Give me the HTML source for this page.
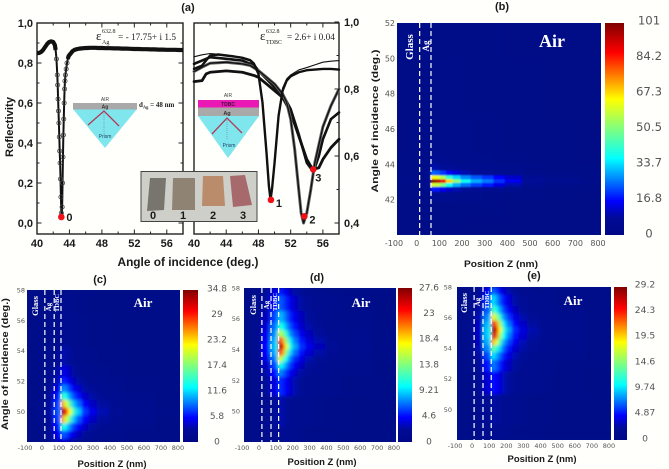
<!DOCTYPE html>
<html lang="en">
<head>
<meta charset="utf-8">
<title>Reflectivity and field maps</title>
<style>
html,body{margin:0;padding:0;background:#fffffb;width:669px;height:469px;overflow:hidden}
svg{display:block}
text{font-family:"Liberation Sans",sans-serif}
.bold{font-weight:700;fill:#1a1a1a}
.serif{font-family:"Liberation Serif",serif;fill:#222}
.dj{font-family:"DejaVu Sans",sans-serif;fill:#555}
.ov{font-family:"Liberation Serif",serif;font-weight:700;fill:#fff}
</style>
</head>
<body>
<svg id="fig" xmlns="http://www.w3.org/2000/svg" width="669" height="469" viewBox="0 0 669 469">
<defs>
<linearGradient id="jet" x1="0" y1="1" x2="0" y2="0">
<stop offset="0" stop-color="#000887"/><stop offset=".08" stop-color="#000a96"/><stop offset=".16" stop-color="#0000ff"/><stop offset=".36" stop-color="#00ffff"/><stop offset=".64" stop-color="#ffff00"/><stop offset=".86" stop-color="#ff0000"/><stop offset="1" stop-color="#800000"/>
</linearGradient>
<filter id="soft" x="-5%" y="-5%" width="110%" height="110%"><feGaussianBlur stdDeviation="0.9"/></filter>
<filter id="softer" x="-5%" y="-5%" width="110%" height="110%"><feGaussianBlur stdDeviation="1.5"/></filter>
</defs>
<rect width="669" height="469" fill="#fffffb"/>
<g id="refl"></g>
<g id="maps"></g>
<g>
<text x="105" y="101" font-size="5" text-anchor="middle" fill="#444">AIR</text>
<polygon points="73,109 137,109 105,148" fill="#7fe6ee"/>
<rect x="73" y="103" width="64" height="6.5" fill="#a9a9a9"/>
<text x="105" y="108.5" font-size="5" font-weight="700" text-anchor="middle" fill="#333">Ag</text>
<path d="M88 125L104 111L119 126" fill="none" stroke="#b03a55" stroke-width="1.3"/>
<line x1="104" y1="111" x2="104" y2="134" stroke="#668" stroke-width=".5" stroke-dasharray="1 1"/>
<text x="105" y="138" font-size="5" text-anchor="middle" fill="#246">Prism</text>
<text class="serif" x="139" y="107" font-size="7" font-weight="700">d<tspan dy="1.5" font-size="4.5">Ag</tspan><tspan dy="-1.5"> = 48 nm</tspan></text>
<text class="serif" x="96" y="40" font-size="13">ε</text>
<text class="serif" x="102" y="33" font-size="6">632.8</text>
<text class="serif" x="102" y="44" font-size="6">Ag</text>
<text class="serif" x="118" y="40" font-size="9.3">= - 17.75+ i 1.5</text>
</g>
<g>
<text x="228" y="97" font-size="5" text-anchor="middle" fill="#444">AIR</text>
<polygon points="198,116 259,116 228,158" fill="#7fe6ee"/>
<rect x="198" y="107" width="61" height="9" fill="#a9a9a9"/>
<rect x="198" y="100" width="61" height="7.5" fill="#ea18b4"/>
<text x="228" y="106" font-size="5" font-weight="700" text-anchor="middle" fill="#40103a">TDBC</text>
<text x="227" y="115" font-size="5.5" font-weight="700" text-anchor="middle" fill="#333">Ag</text>
<path d="M212 134L227 118L242 133" fill="none" stroke="#b03a55" stroke-width="1.3"/>
<line x1="227" y1="118" x2="227" y2="140" stroke="#668" stroke-width=".5" stroke-dasharray="1 1"/>
<text x="229" y="147" font-size="5" text-anchor="middle" fill="#246">Prism</text>
<text class="serif" x="260" y="40" font-size="13">ε</text>
<text class="serif" x="266" y="33" font-size="6">632.8</text>
<text class="serif" x="266" y="44" font-size="6">TDBC</text>
<text class="serif" x="287" y="40" font-size="9.3">= 2.6+ i 0.04</text>
</g>
<g>
<rect x="141" y="171.5" width="116" height="50" fill="#cfcfca" stroke="#444" stroke-width="1"/>
<polygon points="150,178 166,178 164,210 147,211" fill="#77756e"/>
<polygon points="173,178 195,178 195,210 172,210" fill="#8f8374"/>
<polygon points="203,176 223,176 225,206 202,206" fill="#bb8c6c"/>
<polygon points="230,176 245,175 252,205 233,207" fill="#a66a6c"/>
<text class="bold" x="153" y="219" font-size="11" text-anchor="middle">0</text>
<text class="bold" x="183" y="219" font-size="11" text-anchor="middle">1</text>
<text class="bold" x="213" y="219" font-size="11" text-anchor="middle">2</text>
<text class="bold" x="243" y="219" font-size="11" text-anchor="middle">3</text>
</g>
<g id="marks"></g>
<text class="bold" x="188" y="11" font-size="11" text-anchor="middle">(a)</text>
<text class="bold" x="502" y="10" font-size="11" text-anchor="middle">(b)</text>
<text class="bold" x="100" y="283" font-size="11" text-anchor="middle">(c)</text>
<text class="bold" x="317" y="281" font-size="11" text-anchor="middle">(d)</text>
<text class="bold" x="534" y="279" font-size="11" text-anchor="middle">(e)</text>
<text class="bold" x="188" y="266" font-size="11.5" text-anchor="middle" textLength="141" lengthAdjust="spacingAndGlyphs">Angle of incidence (deg.)</text>
<text class="bold" transform="translate(13 127) rotate(-90)" font-size="11" text-anchor="middle" textLength="60" lengthAdjust="spacingAndGlyphs">Reflectivity</text>
</svg>
<script>
/* ---------- panel (a): reflectivity curves ---------- */
const silverAngle = [40,40.25,40.5,40.75,41,41.25,41.5,41.75,42,42.2,42.3,42.4,42.5,42.55,42.6,42.65,42.7,42.75,42.8,42.85,42.9,42.95,43,43.05,43.1,43.15,43.2,43.25,43.3,43.35,43.4,43.45,43.5,43.6,43.7,43.8,43.9,44,44.2,44.4,44.6,44.8,45,45.25,45.5,45.75,46,46.25,46.5,46.75,47,47.25,47.5,47.75,48,48.5,49,49.5,50,50.5,51,51.5,52,52.5,53,53.5,54,54.5,55,55.5,56,56.5,57,57.5,58];
const silverReflectivity = [.85,.85,.855,.865,.88,.895,.905,.908,.905,.89,.865,.82,.74,.69,.62,.56,.5,.43,.36,.3,.22,.13,.05,.03,.08,.2,.33,.44,.52,.6,.67,.71,.74,.77,.8,.82,.835,.84,.85,.86,.865,.868,.87,.872,.873,.874,.875,.875,.876,.876,.876,.876,.875,.875,.875,.874,.874,.873,.873,.872,.872,.871,.87,.87,.869,.869,.868,.868,.867,.867,.866,.866,.866,.865,.865];
const curve1Angle = [40,41,42,43,44,45,46,47,47.5,48,48.5,49,49.3,49.5,49.7,50,50.5,51,51.5,52,53,54,55,56,57,58];
const curve1Top = [.896,.902,.906,.904,.9,.898,.895,.888,.877,.852,.767,.62,.52,.469,.51,.588,.728,.803,.83,.842,.857,.864,.872,.88,.883,.885];
const curve1Lower = [.86,.87,.9,.903,.9,.897,.893,.885,.872,.845,.76,.61,.51,.469,.505,.58,.72,.795,.825,.838,.85,.856,.858,.86,.86,.858];
const curve2Angle = [40,41,42,44,46,47,48,49,50,51,51.5,52,52.5,53,53.3,53.6,54,54.5,55,56,57,58];
const curve2Values = [.852,.865,.877,.88,.875,.87,.855,.835,.815,.785,.76,.71,.62,.5,.43,.4,.43,.5,.58,.687,.75,.8];
const curve3Angle = [40,41,41.5,42,44,46,47.5,48,49,50,51,52,53,54,54.5,54.8,55.5,56,57,58];
const curve3Values = [.822,.825,.845,.85,.854,.85,.84,.835,.815,.795,.775,.73,.66,.59,.57,.56,.565,.59,.625,.65];
const curve4Angle = [40,41,42,44,46,47.5,48,49,50,51,52,53,54,54.6,55,55.5,56,57,58];
const curve4Values = [.875,.885,.895,.89,.885,.87,.855,.83,.805,.785,.74,.665,.58,.56,.565,.6,.65,.71,.73];
const markerAngles = [49.55,53.7,54.8];
const markerValues = [.469,.42,.56];
const markerNames = ['1','2','3'];
const silverMarkerAngle = 43;
const silverMarkerValue = .03;
const angleTicks = [40,44,48,52,56];
const leftTicks = [0,.2,.4,.6,.8,1];
const rightTicks = [.4,.6,.8,1];

/* ---------- panel (b) ---------- */
const bPositions = [-100,0,40,60,80,100,130,160,200,250,300,350,400,500,600,800];
const bAngles = [52,48,45,44.2,43.8,43.5,43.25,43.05,42.85,42.6,42.3,41.5,40];
const bField = [
[.3,.3,.3,.5,.5,.5,.5,.4,.4,.3,.3,.3,.2,.2,.2,.1],
[.2,.2,.3,2,2,1.5,1.5,1.5,1,1,1,.5,.5,.3,.2,.1],
[.2,.5,.5,3,3,3,3,2.5,2.5,2,2,1.5,1,1,.5,.2],
[.5,.5,1,5,5,4,4,3.5,3,3,2.5,2,2,1,1,.2],
[.5,1,2,10,9,8,7,6,5,4.5,4,3,2.5,2,1,.5],
[.5,1,3,24,23,20,16,13,10,8,7,5,4,2,1,.5],
[1,1,4,65,62,55,42,33,27,23,20,16,12,6,3,1],
[1,2,6,100,96,88,68,52,38,30,26,20,15,7,5,2],
[1,1,4,60,58,50,38,30,25,21,18,14,10,5,2,1],
[.5,1,2,18,17,15,12,10,8,7,6,5,3,2,1,.5],
[.5,.5,1,5,5,4,4,3,3,2.5,2,2,1,1,.5,.2],
[.2,.2,.5,1,1,1,1,1,.5,.5,.5,.5,.2,.2,.2,.1],
[.1,.1,.2,.3,.3,.3,.3,.3,.2,.2,.2,.2,.1,.1,.1,.1]];
const bLayerEdges = [0,50];
const bColorTicks = [0,16.8,33.7,50.5,67.3,84.2,101];
const bAngleTicks = [42,44,46,48,50,52];

/* ---------- panels (c), (d), (e) ---------- */
const tdbcPositions = [-100,-20,25,75,90,110,130,150,175,200,240,280,340,420,520,800];
const zTicks = [-100,0,100,200,300,400,500,600,700,800];
const tdbcAngleTicks = [50,52,54,56,58];

const cAngles = [58,55,53.5,52.5,52,51.5,51,50.5,50,49.5,49,48.5,48];
const cField = [
[.3,.4,.6,1,1.2,1.5,1.3,1,.9,.7,.6,.4,.3,.2,.1,.1],
[.3,.5,.8,1.5,1.7,2.2,2,1.7,1.4,1.1,.9,.7,.5,.3,.2,.1],
[.3,.5,1,2,2.5,3.5,3.2,2.8,2.3,1.9,1.5,1.1,.8,.5,.3,.1],
[.4,.6,1.3,3,3.5,5,4.6,3.8,3,2.4,1.9,1.5,1.1,.8,.4,.2],
[.4,.7,1.5,3.5,4.5,6.5,6,5,4,3.2,2.4,1.8,1.4,1,.6,.2],
[.4,.7,2,4.5,5.5,9.5,9,7,5.5,4.4,3.2,2.4,1.8,1.3,.8,.3],
[.5,.8,2.3,5.5,7,15,13,10,7.5,6,4.2,3.2,2.3,1.7,1,.3],
[.5,1,2.8,6.5,8.5,25,21,16,11,8.5,5.5,4,3,2.1,1.3,.4],
[.5,1,3,7,9,34,29,22,15,11,7,5,3.5,2.5,1.5,.5],
[.5,1,2.8,6.5,8.5,25,21,16,11,8,5.5,4,3,2.1,1.3,.4],
[.4,.8,2.3,5.5,7,14,12,9.5,7,5.5,4,3,2.2,1.6,1,.3],
[.4,.7,2,4.5,5.5,8,7.5,6,4.8,3.8,2.8,2.1,1.5,1.1,.7,.2],
[.4,.6,1.5,3.5,4,5,4.6,3.8,3,2.5,1.9,1.5,1,.7,.4,.2]];
const cLayerEdges = [5,60,100];
const cColorTicks = [0,5.8,11.6,17.4,23.2,29,34.8];

const dAngles = [58,57,56,55.5,55,54.6,54.2,53.8,53.4,53,52.5,52,50,48];
const dField = [
[.5,.8,2,3.5,4,5,4.6,3.8,3,2.5,2,1.5,1.2,.9,.6,.3],
[.5,.9,2.4,4.2,5,6.5,6,5,4,3.2,2.5,1.9,1.4,1,.7,.3],
[.6,1,3,5.5,6.5,8.5,8,6.5,5,4,3,2.3,1.7,1.2,.8,.3],
[.6,1,3.5,6.5,7.5,11,10,8,6,4.7,3.4,2.6,2,1.4,.9,.4],
[.6,1.1,4,7,8.5,16,14,11,7.5,5.8,4,3,2.3,1.6,1,.4],
[.6,1.2,4.3,7.7,9.5,24,20,14,9.5,7,4.8,3.5,2.7,1.8,1.2,.5],
[.6,1.2,4.5,8,10,27,24,17,11,8,5.5,4,3,2,1.3,.5],
[.6,1.2,4.3,7.5,9.5,24,20,14,9,6.7,4.6,3.4,2.6,1.8,1.2,.5],
[.5,1.1,3.8,6.5,8,17,14,10,7,5.2,3.8,2.8,2.2,1.5,1,.4],
[.5,1,3,5.5,6.5,11,9.5,7.5,5.5,4.2,3.1,2.3,1.8,1.3,.8,.3],
[.4,.8,2.5,4.5,5,7.5,6.8,5.5,4.3,3.3,2.5,1.9,1.5,1,.7,.3],
[.4,.7,2,3.5,4,5.5,5,4.2,3.4,2.7,2,1.6,1.2,.9,.6,.2],
[.3,.5,1.2,2,2.2,2.8,2.6,2.2,1.8,1.5,1.2,1,.8,.5,.3,.2],
[.3,.4,.8,1.2,1.4,1.8,1.7,1.4,1.2,1,.8,.6,.5,.3,.2,.1]];
const dLayerEdges = [6,60,105];
const dColorTicks = [0,4.6,9.21,13.8,18.4,23,27.6];

const eAngles = [58,57,56.5,56,55.6,55.2,54.8,54.4,54,53.5,53,52,50,48];
const eField = [
[.5,.8,2,4,5,7,6,4.5,3.5,2.8,2,1.6,1.2,.9,.6,.3],
[.5,.9,2.4,5.5,6.5,10,8.5,6.5,5,3.8,2.7,2,1.5,1.1,.7,.3],
[.5,1,2.6,6.5,7.5,13,11,8.5,6,4.5,3.2,2.4,1.8,1.2,.8,.3],
[.6,1,3,7.5,9,19,16,12,8,5.8,4,2.9,2.1,1.4,.9,.4],
[.6,1.1,3.2,8.5,10,26,22,16,10,7.2,4.8,3.4,2.5,1.7,1.1,.4],
[.6,1.2,3.4,9,11,29,26,19,12,8.5,5.5,3.9,2.8,1.9,1.2,.5],
[.6,1.2,3.4,9,10.5,27,23,16,10.5,7.5,5,3.6,2.6,1.8,1.1,.4],
[.6,1.1,3.2,8.5,9.5,21,18,13,8.5,6.2,4.3,3.1,2.3,1.6,1,.4],
[.5,1,3,7.5,8.5,14,12,9.5,6.8,5,3.6,2.7,2,1.4,.9,.4],
[.5,.9,2.6,6,7,10,8.8,7,5.2,4,3,2.2,1.7,1.2,.8,.3],
[.4,.8,2.3,5,5.5,7.5,6.8,5.5,4.2,3.3,2.5,1.9,1.5,1,.7,.3],
[.4,.7,1.8,3.5,4,5,4.6,3.8,3.1,2.5,1.9,1.5,1.2,.8,.5,.2],
[.3,.5,1.1,1.8,2.1,2.7,2.5,2.1,1.7,1.4,1.1,.9,.7,.5,.3,.2],
[.3,.4,.7,1.1,1.3,1.7,1.6,1.3,1.1,.9,.7,.6,.5,.3,.2,.1]];
const eLayerEdges = [0,52,100];
const eColorTicks = [0,4.87,9.74,14.6,19.5,24.3,29.2];

/* ---------- helpers ---------- */
const NS = 'http://www.w3.org/2000/svg';
function mk(tag, attrs, parent) {
  const n = document.createElementNS(NS, tag);
  for (const k in attrs) n.setAttribute(k, attrs[k]);
  parent.appendChild(n);
  return n;
}
function txt(str, attrs, parent) {
  const n = mk('text', attrs, parent);
  n.textContent = str;
  return n;
}
function fmtComma(v) { return v.toFixed(1).replace('.', ','); }
function linear(d0, d1, r0, r1) { return v => r0 + (v - d0) / (d1 - d0) * (r1 - r0); }
const jetStops = [[0,[0,8,135]],[.08,[0,10,150]],[.16,[0,0,255]],[.36,[0,255,255]],[.64,[255,255,0]],[.86,[255,0,0]],[1,[128,0,0]]];
function jet(t) {
  t = Math.max(0, Math.min(1, t));
  for (let i = 1; i < jetStops.length; i++) {
    if (t <= jetStops[i][0]) {
      const a = jetStops[i-1], b = jetStops[i], u = (t - a[0]) / (b[0] - a[0]);
      return 'rgb(' + a[1].map((c, j) => Math.round(c + (b[1][j] - c) * u)).join(',') + ')';
    }
  }
  return 'rgb(128,0,0)';
}
function edges(centers, lo, hi) {
  const e = [lo];
  for (let i = 1; i < centers.length; i++) e.push((centers[i-1] + centers[i]) / 2);
  e.push(hi);
  return e;
}
function polyPoints(xs, ys, sx, sy) { return xs.map((v, i) => sx(v).toFixed(2) + ',' + sy(ys[i]).toFixed(2)).join(' '); }

/* ---------- draw panel (a) ---------- */
const refl = document.getElementById('refl');
const marks = document.getElementById('marks');
const xLeft = linear(40, 58, 37, 183);
const yLeft = linear(0, 1, 223, 23);
const xRight = linear(40, 58, 194, 339);
const yRight = linear(.4, 1, 223, 22);

function frame(x0, x1, y0, y1, name) {
  const r = mk('rect', {x:x0, y:y0, width:x1-x0, height:y1-y0, fill:'#fffffb', stroke:'#222', 'stroke-width':1.4}, refl);
  
  
}
frame(37, 183, 23, 234, 'reflectivity-left-frame');
frame(194, 339, 23, 234, 'reflectivity-right-frame');

function xTicks(sx, top, bottom) {
  for (let a = 40; a <= 58; a += 2) {
    const major = angleTicks.includes(a);
    const len = major ? 4.5 : 2.5;
    const t = mk('path', {d:`M${sx(a)} ${bottom}v${-len}M${sx(a)} ${top}v${len}`, stroke:'#222', 'stroke-width':1}, refl);
    
    
  }
  angleTicks.forEach(a => {
    const l = txt(a, {x:sx(a), y:247, 'font-size':11, 'text-anchor':'middle', class:'bold'}, refl);
    
    
  });
}
xTicks(xLeft, 23, 234);
xTicks(xRight, 23, 234);

leftTicks.forEach(v => {
  const l = txt(fmtComma(v), {x:33, y:yLeft(v)+4, 'font-size':11, 'text-anchor':'end', class:'bold'}, refl);
  
  
  const t = mk('path', {d:`M37 ${yLeft(v)}h4.5M183 ${yLeft(v)}h-4.5`, stroke:'#222', 'stroke-width':1}, refl);
  
  
  if (v < 1) {
    const m = mk('path', {d:`M37 ${yLeft(v+.1)}h2.5M183 ${yLeft(v+.1)}h-2.5`, stroke:'#222', 'stroke-width':1}, refl);
    
    
  }
});
rightTicks.forEach(v => {
  const l = txt(fmtComma(v), {x:344, y:yRight(v)+4, 'font-size':11, 'text-anchor':'start', class:'bold'}, refl);
  
  
  const t = mk('path', {d:`M339 ${yRight(v)}h-4.5`, stroke:'#222', 'stroke-width':1}, refl);
  
  
  if (v < .9) {
    const m = mk('path', {d:`M339 ${yRight(v+.1)}h-2.5`, stroke:'#222', 'stroke-width':1}, refl);
    
    
  }
});

const silverLine = mk('polyline', {points:polyPoints(silverAngle, silverReflectivity, xLeft, yLeft), fill:'none', stroke:'#111', 'stroke-width':2, 'stroke-linejoin':'round'}, refl);


const plateauAngle1 = silverAngle.filter(a => a <= 42.3);
const plateauValue1 = silverReflectivity.filter((v, i) => silverAngle[i] <= 42.3);
const plateauAngle2 = silverAngle.filter(a => a >= 43.8);
const plateauValue2 = silverReflectivity.filter((v, i) => silverAngle[i] >= 43.8);
const plateauLeft = mk('polyline', {points:polyPoints(plateauAngle1, plateauValue1, xLeft, yLeft), fill:'none', stroke:'#111', 'stroke-width':4.2, 'stroke-linejoin':'round'}, refl);


const plateauRight = mk('polyline', {points:polyPoints(plateauAngle2, plateauValue2, xLeft, yLeft), fill:'none', stroke:'#111', 'stroke-width':4.2, 'stroke-linejoin':'round'}, refl);


silverAngle.forEach((a, i) => {
  if (a > 42.3 && a < 43.8) {
    const c = mk('circle', {cx:xLeft(a), cy:yLeft(silverReflectivity[i]), r:2.1, fill:'none', stroke:'#444', 'stroke-width':.8}, refl);
    
    
  }
});

function drawCurve(xs, ys, width, color, name) {
  const halo = mk('polyline', {points:polyPoints(xs, ys, xRight, yRight), fill:'none', stroke:color, 'stroke-width':width, 'stroke-linejoin':'round', 'stroke-linecap':'round'}, refl);
  
  
}
drawCurve(curve3Angle, curve3Values, 2.8, '#111', 'curve-sample-3');
drawCurve(curve4Angle, curve4Values, 2.6, '#111', 'curve-sample-3b');
drawCurve(curve2Angle, curve2Values, 3, '#666', 'curve-sample-2-shadow');
drawCurve(curve2Angle, curve2Values, 1.3, '#111', 'curve-sample-2');
drawCurve(curve1Angle, curve1Lower, 2.4, '#111', 'curve-sample-1-lower');
drawCurve(curve1Angle, curve1Top, 1.1, '#111', 'curve-sample-1-top');

const dot0 = mk('circle', {cx:xLeft(silverMarkerAngle), cy:yLeft(silverMarkerValue), r:3.3, fill:'#f01018'}, marks);


const dot0Label = txt('0', {x:xLeft(silverMarkerAngle)+5, y:yLeft(silverMarkerValue)+4, 'font-size':11, class:'bold'}, marks);


markerAngles.forEach((a, i) => {
  const d = mk('circle', {cx:xRight(a), cy:yRight(markerValues[i]), r:3.3, fill:'#f01018'}, marks);
  
  
  const l = txt(markerNames[i], {x:xRight(a)+ (i===2?2:5), y:yRight(markerValues[i])+(i===2?12:7), 'font-size':11, class:'bold'}, marks);
  
  
});

/* ---------- draw heat maps ---------- */
const maps = document.getElementById('maps');
let clipId = 0;
function heatmap(o) {
  const g = mk('g', {}, maps);
  
  
  const sx = linear(-100, 800, o.x0, o.x1);
  const sy = linear(o.aMin, o.aMax, o.y1, o.y0);
  const zEdges = edges(o.zs, -100, 800);
  const aEdges = edges(o.angles, o.aMax, o.aMin);
  const id = 'clip' + (clipId++);
  const cp = mk('clipPath', {id:id}, maps);
  mk('rect', {x:o.x0, y:o.y0, width:o.x1-o.x0, height:o.y1-o.y0}, cp);
  const holder = mk('g', {'clip-path':`url(#${id})`}, g);
  mk('rect', {x:o.x0, y:o.y0, width:o.x1-o.x0, height:o.y1-o.y0, fill:jet(0)}, holder);
  const cells = mk('g', {filter:`url(#${o.blur})`}, holder);
  o.field.forEach((row, r) => {
    row.forEach((v, c) => {
      const top = sy(aEdges[r]), bot = sy(aEdges[r+1]);
      const left = sx(zEdges[c]), right = sx(zEdges[c+1]);
      const cell = mk('rect', {x:left, y:top, width:right-left+.4, height:bot-top+.4, fill:jet(v / o.max)}, cells);
      
      
    });
  });
  o.layers.forEach(z => {
    const d = mk('line', {x1:sx(z), x2:sx(z), y1:o.y0, y2:o.y1, stroke:'#fff', 'stroke-width':1.2, 'stroke-dasharray':'5 3'}, g);
    
    
  });
  zTicks.forEach(z => {
    const l = txt(z, {x:sx(z)+o.xLabelDx, y:o.xLabelY, 'font-size':o.tickSize, 'text-anchor':'middle', class:'dj'}, g);
    
    
  });
  o.angleTicks.forEach(a => {
    const l = txt(a, {x:o.yLabelX, y:sy(a)+o.tickSize*.37, 'font-size':o.tickSize, 'text-anchor':'end', class:'dj'}, g);
    
    
  });
  const bar = mk('rect', {x:o.cb0, y:o.y0, width:o.cb1-o.cb0, height:o.y1-o.y0, fill:'url(#jet)'}, g);
  
  
  const sc = linear(0, o.max, o.cbLabel0, o.cbLabel1);
  o.colorTicks.forEach(v => {
    const l = txt(v, {x:o.cbLabelX, y:sc(v)+o.cbSize*.37, 'font-size':o.cbSize, 'text-anchor':'middle', class:'dj'}, g);
    
    
  });
  const xt = txt('Position Z (nm)', {x:o.xTitleX, y:o.xTitleY, 'font-size':o.titleSize, 'text-anchor':'middle', class:'bold', textLength:o.xTitleLen, lengthAdjust:'spacingAndGlyphs'}, g);
  
  
  if (o.yTitle) {
    const yt = txt('Angle of incidence (deg.)', {transform:`translate(${o.yTitle[0]} ${o.yTitle[1]}) rotate(-90)`, 'font-size':o.titleSize, 'text-anchor':'middle', class:'bold', textLength:o.yTitle[2], lengthAdjust:'spacingAndGlyphs'}, g);
    
    
  }
  o.notes.forEach(n => {
    const attrs = {'font-size':n[3], class:'ov', 'text-anchor':'middle'};
    if (n[4]) attrs.transform = `translate(${n[1]} ${n[2]}) rotate(-90)`;
    else { attrs.x = n[1]; attrs.y = n[2]; }
    const t = txt(n[0], attrs, g);
    
    
  });
}

heatmap({name:'map-b', blur:'soft', x0:397, x1:601, y0:23, y1:235, aMin:40, aMax:52, zs:bPositions, angles:bAngles, field:bField, max:101,
  layers:bLayerEdges, colorTicks:bColorTicks, angleTicks:bAngleTicks, cb0:605, cb1:624, cbLabel0:233, cbLabel1:20, cbLabelX:649, cbSize:11.7,
  tickSize:8, xLabelDx:-3, xLabelY:246, yLabelX:395, xTitleX:501, xTitleY:267, xTitleLen:74, titleSize:9.5, yTitle:[378,121,143],
  notes:[['Glass',413,47,11,1],['Ag',429,46,9,1],['Air',552,47,18,0]]});
heatmap({name:'map-c', blur:'softer', x0:27, x1:180, y0:290, y1:442, aMin:48, aMax:58, zs:tdbcPositions, angles:cAngles, field:cField, max:34.8,
  layers:cLayerEdges, colorTicks:cColorTicks, angleTicks:tdbcAngleTicks, cb0:183, cb1:198, cbLabel0:441, cbLabel1:288, cbLabelX:217, cbSize:9,
  tickSize:6.5, xLabelDx:-2, xLabelY:450, yLabelX:25, xTitleX:112, xTitleY:467, xTitleLen:69, titleSize:9.5, yTitle:[8,364,132],
  notes:[['Glass',38,306,8.5,1],['Ag',51,307,7,1],['TDBC',59,303,6.5,1],['Air',143,307,13,0]]});
heatmap({name:'map-d', blur:'softer', x0:244, x1:396, y0:288, y1:442, aMin:48, aMax:58, zs:tdbcPositions, angles:dAngles, field:dField, max:27.6,
  layers:dLayerEdges, colorTicks:dColorTicks, angleTicks:tdbcAngleTicks, cb0:398, cb1:412, cbLabel0:441, cbLabel1:287, cbLabelX:429, cbSize:9,
  tickSize:6.5, xLabelDx:-2, xLabelY:450, yLabelX:240, xTitleX:322, xTitleY:465, xTitleLen:69, titleSize:9.5, yTitle:null,
  notes:[['Glass',256,305,8.5,1],['Ag',269,305,7,1],['TDBC',277,302,6.5,1],['Air',361,307,13,0]]});
heatmap({name:'map-e', blur:'softer', x0:457, x1:611, y0:287, y1:440, aMin:48, aMax:58, zs:tdbcPositions, angles:eAngles, field:eField, max:29.2,
  layers:eLayerEdges, colorTicks:eColorTicks, angleTicks:tdbcAngleTicks, cb0:614, cb1:627, cbLabel0:438, cbLabel1:284, cbLabelX:645, cbSize:9.2,
  tickSize:6.5, xLabelDx:-2, xLabelY:448, yLabelX:452, xTitleX:542, xTitleY:462, xTitleLen:69, titleSize:9.5, yTitle:null,
  notes:[['Glass',467,303,8.5,1],['Ag',480,302,7,1],['TDBC',489,300,6.5,1],['Air',573,305,13,0]]});
</script>
</body>
</html>
